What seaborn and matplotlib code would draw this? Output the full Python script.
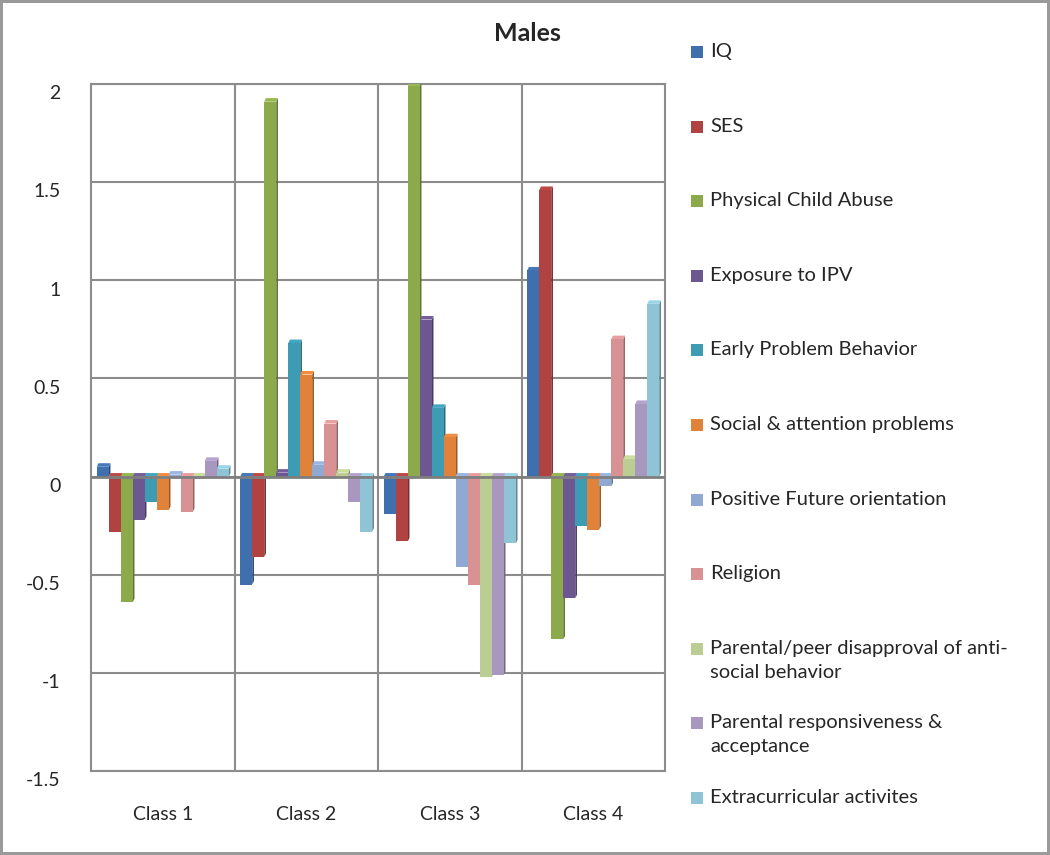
import numpy as np
import pandas as pd
import matplotlib
matplotlib.use("Agg")
import matplotlib.pyplot as plt
import matplotlib.colors as mcolors
import matplotlib.transforms as mtransforms
from matplotlib.patches import Polygon, Rectangle
import seaborn as sns

classes = ["Class 1", "Class 2", "Class 3", "Class 4"]
series = [
    "IQ",
    "SES",
    "Physical Child Abuse",
    "Exposure to IPV",
    "Early Problem Behavior",
    "Social & attention problems",
    "Positive Future orientation",
    "Religion",
    "Parental/peer disapproval of anti-\nsocial behavior",
    "Parental responsiveness &\nacceptance",
    "Extracurricular activites",
]
iq = [0.05, -0.55, -0.19, 1.05]
ses = [-0.28, -0.41, -0.33, 1.46]
child_abuse = [-0.64, 1.91, 1.99, -0.83]
ipv = [-0.22, 0.02, 0.80, -0.62]
early_problem = [-0.13, 0.68, 0.35, -0.25]
social_attention = [-0.17, 0.52, 0.20, -0.27]
future_orientation = [0.01, 0.06, -0.46, -0.05]
religion = [-0.18, 0.27, -0.55, 0.70]
disapproval = [-0.01, 0.02, -1.02, 0.09]
responsiveness = [0.08, -0.13, -1.01, 0.37]
extracurricular = [0.04, -0.28, -0.34, 0.88]

values = [iq, ses, child_abuse, ipv, early_problem, social_attention,
          future_orientation, religion, disapproval, responsiveness, extracurricular]
colors = ["#3F6FAD", "#B04341", "#8CA94B", "#6C5790", "#3D9BB3", "#E0823A",
          "#8FA9D3", "#D89293", "#BBCD93", "#A897BF", "#8FC4D6"]

rows = []
for s, vals in zip(series, values):
    for c, v in zip(classes, vals):
        rows.append({"Class": c, "Series": s, "Value": v})
df = pd.DataFrame(rows)

sns.set_style("white")
plt.rcParams["font.family"] = ["Lato", "DejaVu Sans"]

W, H = 1050, 855
fig = plt.figure(figsize=(W / 100, H / 100), dpi=100)
ax = fig.add_axes([91 / W, 1 - 771 / H, (665 - 91) / W, (771 - 84) / H])

sns.barplot(data=df, x="Class", y="Value", hue="Series", hue_order=series,
            order=classes, palette=colors, width=0.92, gap=0, ax=ax,
            errorbar=None, saturation=1, zorder=3, edgecolor="none", legend=False)

# pseudo-3D side and top faces derived from the bar patches
dx, dy = 0.012, 0.018
for p in list(ax.patches):
    x0, w = p.get_x(), p.get_width()
    y0, h = p.get_y(), p.get_height()
    if w <= 0:
        continue
    fc = np.array(mcolors.to_rgb(p.get_facecolor()))
    dark = tuple(fc * 0.68)
    light = tuple(np.clip(fc * 1.08, 0, 1))
    y_lo, y_hi = min(y0, y0 + h), max(y0, y0 + h)
    side = Polygon([(x0 + w, y_lo), (x0 + w + dx, y_lo + dy),
                    (x0 + w + dx, y_hi + dy), (x0 + w, y_hi)],
                   closed=True, facecolor=dark, edgecolor="none", zorder=2.9)
    top = Polygon([(x0, y_hi), (x0 + dx, y_hi + dy),
                   (x0 + w + dx, y_hi + dy), (x0 + w, y_hi)],
                  closed=True, facecolor=light, edgecolor="none", zorder=2.9)
    ax.add_patch(side)
    ax.add_patch(top)

ax.set_ylim(-1.5, 2)
ax.set_xlim(-0.5, 3.5)
ax.set_yticks([-1.5, -1, -0.5, 0, 0.5, 1, 1.5, 2])
ax.set_yticklabels(["-1.5", "-1", "-0.5", "0", "0.5", "1", "1.5", "2"])
ax.set_xlabel("")
ax.set_ylabel("")
ax.tick_params(axis="y", length=0, pad=22, labelsize=14)
ax.tick_params(axis="x", length=0, pad=25, labelsize=14)
offset = mtransforms.ScaledTranslation(0, -6 / 72, fig.dpi_scale_trans)
for lab in ax.get_yticklabels():
    lab.set_transform(lab.get_transform() + offset)

grid_c = "#8C8C8C"
ax.yaxis.grid(True, color=grid_c, linewidth=1.5, zorder=0)
ax.set_axisbelow(True)
for xb in [0.5, 1.5, 2.5]:
    ax.axvline(xb, color=grid_c, linewidth=1.5, zorder=1)
ax.axhline(0, color="#7F7F7F", linewidth=2, zorder=4)
for sp in ax.spines.values():
    sp.set_color(grid_c)
    sp.set_linewidth(1.5)

# legend: one entry per series, evenly spaced like the original
leg_top, leg_step = 52, 74.6
for i, (s, c) in enumerate(zip(series, colors)):
    yc = leg_top + i * leg_step
    fig.patches.append(Rectangle((691 / W, 1 - (yc + 6) / H), 12 / W, 12 / H,
                                 transform=fig.transFigure, facecolor=c,
                                 edgecolor="none"))
    fig.text(710 / W, 1 - (yc - 9) / H, s, ha="left", va="top",
             fontsize=14.5, linespacing=1.5)

fig.text(0.502, 0.961, "Males", ha="center", va="center", fontsize=18,
         fontweight="bold")

fig.patch.set_edgecolor("#9A9A9A")
fig.patch.set_linewidth(3)

fig.savefig("out.png", dpi=100, facecolor="white", edgecolor=fig.patch.get_edgecolor())
